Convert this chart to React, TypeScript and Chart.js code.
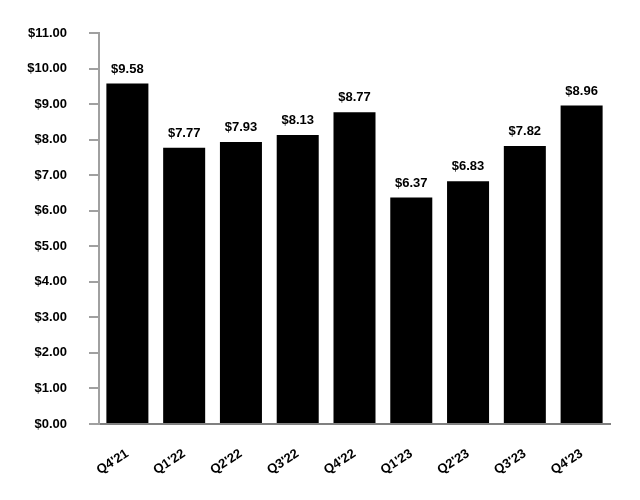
import React, { useEffect, useRef } from "react";
import { Chart, registerables } from "chart.js";

Chart.register(...registerables);

const categories = ["Q4'21", "Q1'22", "Q2'22", "Q3'22", "Q4'22", "Q1'23", "Q2'23", "Q3'23", "Q4'23"];
const values = [9.58, 7.77, 7.93, 8.13, 8.77, 6.37, 6.83, 7.82, 8.96];
const yMin = 0;
const yMax = 11;
const yStep = 1;

const FONT = "'Liberation Sans', Arial, sans-serif";

const valueLabels = {
  id: "valueLabels",
  afterDatasetsDraw(chart: any) {
    const ctx = chart.ctx;
    const meta = chart.getDatasetMeta(0);
    ctx.save();
    ctx.font = `bold 13px ${FONT}`;
    ctx.fillStyle = "#000";
    ctx.textAlign = "center";
    ctx.textBaseline = "bottom";
    meta.data.forEach((bar: any, i: number) => {
      ctx.fillText("$" + values[i].toFixed(2), bar.x, bar.y - 8);
    });
    ctx.restore();
  },
};

export default function App() {
  const ref = useRef<HTMLCanvasElement | null>(null);
  useEffect(() => {
    document.body.style.margin = "0";
    const chart = new Chart(ref.current!, {
      type: "bar",
      data: {
        labels: categories,
        datasets: [
          {
            data: values,
            backgroundColor: "#000",
            barPercentage: 0.74,
            categoryPercentage: 1,
          },
        ],
      },
      options: {
        animation: false,
        responsive: false,
        layout: { padding: { top: 33, right: 30, left: 0, bottom: 0 } },
        plugins: { legend: { display: false }, tooltip: { enabled: false } },
        scales: {
          x: {
            grid: { display: false },
            border: { display: true, color: "#808080", width: 2 },
            ticks: {
              autoSkip: false,
              maxRotation: 33,
              minRotation: 33,
              padding: 14,
              color: "#000",
              font: { family: FONT, weight: "bold", size: 13 },
            },
            afterFit(scale: any) {
              scale.height = 76;
            },
          },
          y: {
            min: yMin,
            max: yMax,
            ticks: {
              stepSize: yStep,
              padding: 22,
              color: "#000",
              font: { family: FONT, weight: "bold", size: 13 },
              callback: (v: any) => "$" + Number(v).toFixed(2),
            },
            grid: {
              drawOnChartArea: false,
              drawTicks: true,
              tickLength: 10,
              tickColor: "#a0a0a0",
              lineWidth: 2,
            },
            border: { display: true, color: "#a0a0a0", width: 2 },
            afterFit(scale: any) {
              scale.width = 99;
            },
          },
        },
      },
      plugins: [valueLabels],
    });
    return () => chart.destroy();
  }, []);
  return <canvas ref={ref} width={640} height={500} style={{ display: "block" }} />;
}
